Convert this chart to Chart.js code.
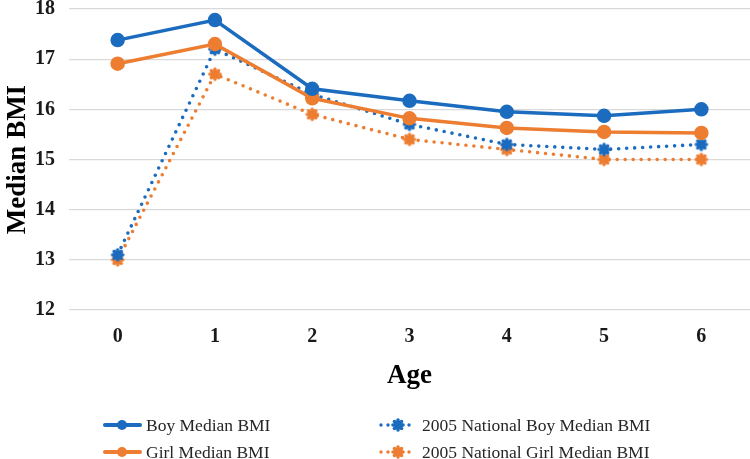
<!DOCTYPE html>
<html>
<head>
<meta charset="utf-8">
<script src="https://cdn.jsdelivr.net/npm/chart.js@4"></script>
<style>
  html, body { margin: 0; padding: 0; background: #fff; overflow: hidden; }
  #wrap { position: relative; width: 750px; height: 459px; overflow: hidden; }
  .leg { position: absolute; display: flex; align-items: center; font-family: "Liberation Serif", serif; font-size: 17.5px; color: #262626; white-space: nowrap; }
  .leg canvas { margin-right: 4px; }
</style>
</head>
<body>
<div id="wrap">
  <canvas id="myChart" width="759" height="459"></canvas>
  <div class="leg" style="left:102px; top:413px;"><canvas id="lg0" width="40" height="24"></canvas>Boy Median BMI</div>
  <div class="leg" style="left:102px; top:440px;"><canvas id="lg1" width="40" height="24"></canvas>Girl Median BMI</div>
  <div class="leg" style="left:378px; top:413px;"><canvas id="lg2" width="40" height="24"></canvas>2005 National Boy Median BMI</div>
  <div class="leg" style="left:378px; top:440px;"><canvas id="lg3" width="40" height="24"></canvas>2005 National Girl Median BMI</div>
</div>
<script>
// median BMI by age

const ages = ['0', '1', '2', '3', '4', '5', '6'];
const boyBMI = [17.38, 17.78, 16.41, 16.17, 15.95, 15.87, 16.0];
const girlBMI = [16.91, 17.3, 16.22, 15.82, 15.63, 15.55, 15.53];
const nationalBoyBMI = [13.1, 17.2, 16.3, 15.7, 15.3, 15.2, 15.3];
const nationalGirlBMI = [13.0, 16.7, 15.9, 15.4, 15.2, 15.0, 15.0];

const blue = '#1B6BBE';
const orange = '#ED7D31';

// scalloped marker like the one on the dotted lines
function gear(color) {
  const c = document.createElement('canvas');
  c.width = 16; c.height = 16;
  const g = c.getContext('2d');
  g.fillStyle = color;
  g.beginPath();
  g.arc(8, 8, 4.6, 0, Math.PI * 2);
  g.fill();
  for (let i = 0; i < 8; i++) {
    const a = i * Math.PI / 4;
    g.beginPath();
    g.arc(8 + Math.cos(a) * 5, 8 + Math.sin(a) * 5, 1.8, 0, Math.PI * 2);
    g.fill();
  }
  return c;
}

const serif = '"Liberation Serif", "Times New Roman", serif';

const ctx = document.getElementById('myChart');

new Chart(ctx, {
  type: 'line',
  data: {
    labels: ages,
    datasets: [{
      label: 'Boy Median BMI',
      data: boyBMI,
      borderColor: blue,
      backgroundColor: blue,
      borderWidth: 3.5,
      pointRadius: 5.5,
      pointStyle: 'circle',
      order: 1
    }, {
      label: 'Girl Median BMI',
      data: girlBMI,
      borderColor: orange,
      backgroundColor: orange,
      borderWidth: 3.5,
      pointRadius: 5.5,
      pointStyle: 'circle',
      order: 2
    }, {
      label: '2005 National Boy Median BMI',
      data: nationalBoyBMI,
      borderColor: blue,
      backgroundColor: blue,
      borderWidth: 3.6,
      borderDash: [0, 8],
      borderCapStyle: 'round',
      pointStyle: gear(blue),
      order: 3
    }, {
      label: '2005 National Girl Median BMI',
      data: nationalGirlBMI,
      borderColor: orange,
      backgroundColor: orange,
      borderWidth: 3.6,
      borderDash: [0, 8],
      borderCapStyle: 'round',
      pointStyle: gear(orange),
      order: 4
    }]
  },
  options: {
    responsive: false,
    animation: false,
    layout: { padding: { top: 8, right: 0, bottom: 63, left: 0 } },
    plugins: {
      legend: { display: false },
      tooltip: { enabled: false }
    },
    scales: {
      x: {
        offset: true,
        grid: { display: false, drawTicks: false },
        border: { display: false },
        ticks: { padding: 15, color: '#1a1a1a', font: { family: serif, size: 20, weight: 'bold' } },
        title: { display: true, text: 'Age', color: '#000', padding: { top: 6, bottom: 4 }, font: { family: serif, size: 27, weight: 'bold' } },
        afterFit: function (s) { s.height = 86; s.paddingLeft = 0; s.paddingRight = 0; }
      },
      y: {
        min: 12,
        max: 18,
        ticks: { stepSize: 1, padding: 14, color: '#1a1a1a', font: { family: serif, size: 20, weight: 'bold' } },
        grid: { color: '#D9D9D9', lineWidth: 1.3, drawTicks: false },
        border: { display: false },
        title: { display: true, text: 'Median BMI', color: '#000', padding: { top: 2, bottom: 0 }, font: { family: serif, size: 27, weight: 'bold' } },
        afterFit: function (s) { s.width = 69; s.paddingTop = 0; s.paddingBottom = 0; }
      }
    }
  }
});

// legend swatches: line with its marker
function swatch(id, color, dotted) {
  const g = document.getElementById(id).getContext('2d');
  g.strokeStyle = color;
  g.fillStyle = color;
  g.lineCap = 'round';
  if (dotted) {
    g.lineWidth = 3.4;
    g.setLineDash([0, 7]);
  } else {
    g.lineWidth = 4;
  }
  g.beginPath();
  g.moveTo(3, 12);
  g.lineTo(38, 12);
  g.stroke();
  if (dotted) {
    g.drawImage(gear(color), 12, 4);
  } else {
    g.beginPath();
    g.arc(20, 12, 5, 0, Math.PI * 2);
    g.fill();
  }
}
swatch('lg0', blue, false);
swatch('lg1', orange, false);
swatch('lg2', blue, true);
swatch('lg3', orange, true);
</script>
</body>
</html>
